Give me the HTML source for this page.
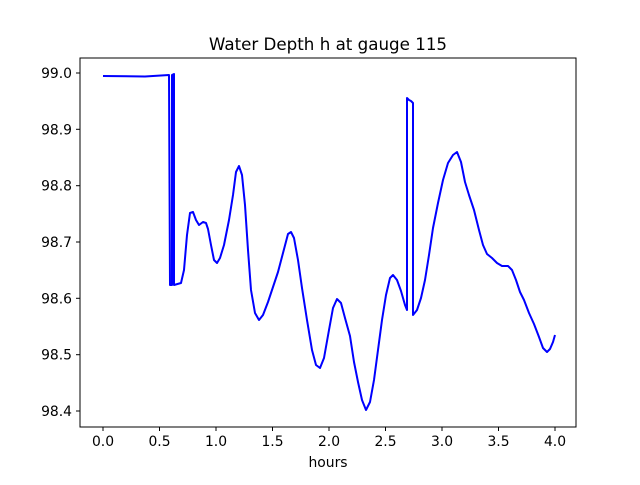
<!DOCTYPE html><html><head><style>body{margin:0;background:#fff}svg text{font-family:"DejaVu Sans","Liberation Sans",sans-serif;font-size:13.9px;fill:#000}</style></head><body>
<svg width="640" height="480" xmlns="http://www.w3.org/2000/svg">
<rect width="640" height="480" fill="#fff"/>
<polyline fill="none" stroke="#0000ff" stroke-width="2" stroke-linejoin="round" points="103,76 145,76.5 169,75 170,285 172,285 172,75 174,74 174,285 181,283 184,270 187,235 190,213 193,212 196,220 199,225 203,222 206,223 208,229 211,245 214,260 217,263 220,258 224,245 229,220 233,195 236,172 239,166 242,175 245,205 248,250 251,290 255,313 259,320 263,315 268,302 273,287 278,272 283,253 288,234 291,232 294,238 298,260 302,288 307,320 312,350 316,365 320,368 324,358 329,330 333,308 337,299 341,303 345,318 350,336 354,362 358,382 362,400 366,410 370,402 374,380 378,350 382,320 386,295 390,278 393,275 397,280 401,291 405,305 407,310 407,98 409,100 411,101 413,103 413,315 417,310 421,298 425,280 429,255 433,228 438,203 443,180 448,163 453,155 457,152 461,162 465,182 469,195 474,210 479,230 483,245 487,254 492,258 497,263 502,266 508,266 512,270 516,280 520,292 524,300 529,313 534,324 539,337 543,348 547,352 550,349 553,342 555,335"/>
<rect x="80" y="58" width="496" height="369" fill="none" stroke="#000" stroke-width="1"/>
<g stroke="#000">
<line x1="103" y1="427" x2="103" y2="431"/><line x1="159.5" y1="427" x2="159.5" y2="431"/><line x1="216" y1="427" x2="216" y2="431"/><line x1="272.5" y1="427" x2="272.5" y2="431"/><line x1="329" y1="427" x2="329" y2="431"/><line x1="385.5" y1="427" x2="385.5" y2="431"/><line x1="442" y1="427" x2="442" y2="431"/><line x1="498.5" y1="427" x2="498.5" y2="431"/><line x1="555" y1="427" x2="555" y2="431"/>
<line x1="76" y1="73" x2="80" y2="73"/><line x1="76" y1="129.3" x2="80" y2="129.3"/><line x1="76" y1="185.7" x2="80" y2="185.7"/><line x1="76" y1="242" x2="80" y2="242"/><line x1="76" y1="298.3" x2="80" y2="298.3"/><line x1="76" y1="354.7" x2="80" y2="354.7"/><line x1="76" y1="411" x2="80" y2="411"/>
</g>
<g text-anchor="middle">
<text x="103" y="446">0.0</text><text x="159.5" y="446">0.5</text><text x="216" y="446">1.0</text><text x="272.5" y="446">1.5</text><text x="329" y="446">2.0</text><text x="385.5" y="446">2.5</text><text x="442" y="446">3.0</text><text x="498.5" y="446">3.5</text><text x="555" y="446">4.0</text>
<text x="328" y="467">hours</text>
<text x="328" y="50" style="font-size:16.7px">Water Depth h at gauge 115</text>
</g>
<g text-anchor="end">
<text x="72" y="78">99.0</text><text x="72" y="134.3">98.9</text><text x="72" y="190.7">98.8</text><text x="72" y="247">98.7</text><text x="72" y="303.3">98.6</text><text x="72" y="359.7">98.5</text><text x="72" y="416">98.4</text>
</g>
</svg></body></html>
